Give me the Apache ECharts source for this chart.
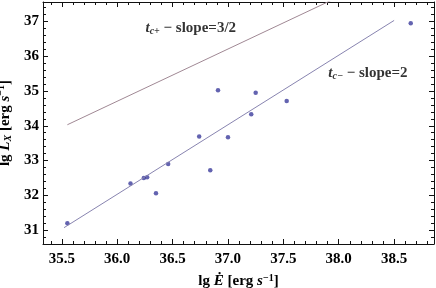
<!DOCTYPE html>
<html>
<head>
<meta charset="utf-8">
<script src="https://cdn.jsdelivr.net/npm/echarts@6/dist/echarts.min.js"></script>
<style>html,body{margin:0;padding:0;background:#fff;}#c{width:436px;height:288px;}</style>
</head>
<body>
<div id="c"></div>
<script>
// Data
const edot = [35.55, 36.12, 36.24, 36.27, 36.35, 36.46, 36.74, 36.84, 36.91, 37.00, 37.21, 37.25, 37.53, 38.65];
const lx   = [31.20, 32.34, 32.50, 32.52, 32.06, 32.90, 33.69, 32.72, 35.02, 33.67, 34.33, 34.95, 34.71, 36.95];
// Fit lines (end points)
const lineMinusX = [35.52, 38.50];
const lineMinusY = [31.07, 37.03];
const linePlusX = [35.55, 38.10];
const linePlusY = [34.03, 37.86];
// Annotation anchors (data coords)
const notePlus = [36.26, 36.78];
const noteMinus = [37.91, 35.50];
// Axis ranges and ticks
const xRange = [35.33, 38.86];
const yRange = [30.60, 37.56];
const xMajor = [35.5, 36.0, 36.5, 37.0, 37.5, 38.0, 38.5];
const yMajor = [31, 32, 33, 34, 35, 36, 37];
const xMinor = [];
for (let i = 354; i <= 388; i++) xMinor.push(i / 10);
const yMinor = [];
for (let i = 154; i <= 187; i++) yMinor.push(i / 5);

const FONT = 'Liberation Serif';
const FS = 15;
const chart = echarts.init(document.getElementById('c'));

const rich = {
  n: {fontFamily: FONT, fontWeight: 'bold', fontSize: FS, color: '#000'},
  i: {fontFamily: FONT, fontWeight: 'bold', fontStyle: 'italic', fontSize: FS, color: '#000'},
  sup: {fontFamily: FONT, fontWeight: 'bold', fontSize: 10, color: '#000', padding: [0, 0, 7, 0]},
  sub: {fontFamily: FONT, fontWeight: 'bold', fontStyle: 'italic', fontSize: 10, color: '#000', padding: [6, 0, 0, 0]}
};

function xAxisDef(pos, major, withLabel) {
  return {
    type: 'value', min: xRange[0], max: xRange[1], position: pos,
    axisLine: {show: major, onZero: false, lineStyle: {color: '#111', width: 1}},
    axisTick: {show: true, inside: true, length: major ? 5 : 3, customValues: major ? xMajor : xMinor,
      lineStyle: {color: '#111', width: 1}},
    axisLabel: withLabel ? {show: true, customValues: xMajor, formatter: v => Number(v).toFixed(1),
      margin: 8, fontFamily: FONT, fontWeight: 'bold', fontSize: FS, color: '#000'} : {show: false},
    splitLine: {show: false}
  };
}
function yAxisDef(pos, major, withLabel) {
  return {
    type: 'value', min: yRange[0], max: yRange[1], position: pos,
    axisLine: {show: major, onZero: false, lineStyle: {color: '#111', width: 1}},
    axisTick: {show: true, inside: true, length: major ? 5 : 3, customValues: major ? yMajor : yMinor,
      lineStyle: {color: '#111', width: 1}},
    axisLabel: withLabel ? {show: true, customValues: yMajor, formatter: v => String(Math.round(v)),
      margin: 4, fontFamily: FONT, fontWeight: 'bold', fontSize: FS, color: '#000'} : {show: false},
    splitLine: {show: false}
  };
}

const xa = [xAxisDef('bottom', true, true), xAxisDef('bottom', false, false),
            xAxisDef('top', true, false), xAxisDef('top', false, false)];
xa[0].name = '{n|lg }{i|Ė}{n| [erg }{i|s}{sup|−1}{n|]}';
xa[0].nameLocation = 'middle';
xa[0].nameGap = 29;
xa[0].nameTextStyle = {rich: rich};

const ya = [yAxisDef('left', true, true), yAxisDef('left', false, false),
            yAxisDef('right', true, false), yAxisDef('right', false, false)];
ya[0].name = '{n|lg }{i|L}{sub|X}{n| [erg }{i|s}{sup|−1}{n|]}';
ya[0].nameLocation = 'middle';
ya[0].nameGap = 26;
ya[0].nameRotate = 90;
ya[0].nameTextStyle = {rich: rich};

chart.setOption({
  animation: false,
  backgroundColor: '#fff',
  grid: {left: 43, right: 2, top: 2, bottom: 44, containLabel: false, outerBoundsMode: 'none'},
  xAxis: xa,
  yAxis: ya,
  series: [
    {type: 'line', xAxisIndex: 0, yAxisIndex: 0, showSymbol: false, clip: true,
     data: linePlusX.map((x, k) => [x, linePlusY[k]]),
     lineStyle: {color: '#a08894', width: 1}},
    {type: 'line', xAxisIndex: 0, yAxisIndex: 0, showSymbol: false, clip: true,
     data: lineMinusX.map((x, k) => [x, lineMinusY[k]]),
     lineStyle: {color: '#8884b0', width: 1}},
    {type: 'scatter', xAxisIndex: 0, yAxisIndex: 0, symbol: 'circle', symbolSize: 4.5,
     itemStyle: {color: '#3c3c9c'},
     data: edot.map((x, k) => [x, lx[k]])},
    {type: 'scatter', xAxisIndex: 0, yAxisIndex: 0, symbolSize: 1, silent: true,
     itemStyle: {color: 'rgba(0,0,0,0)'},
     data: [notePlus, noteMinus],
     label: {show: true, position: [0, 0], align: 'left', verticalAlign: 'middle', rich: rich,
       formatter: p => p.dataIndex === 0 ? '{i|t}{sub|c+}{n| − slope=3/2}' : '{i|t}{sub|c−}{n| − slope=2}'}}
  ]
});
</script>
</body>
</html>
